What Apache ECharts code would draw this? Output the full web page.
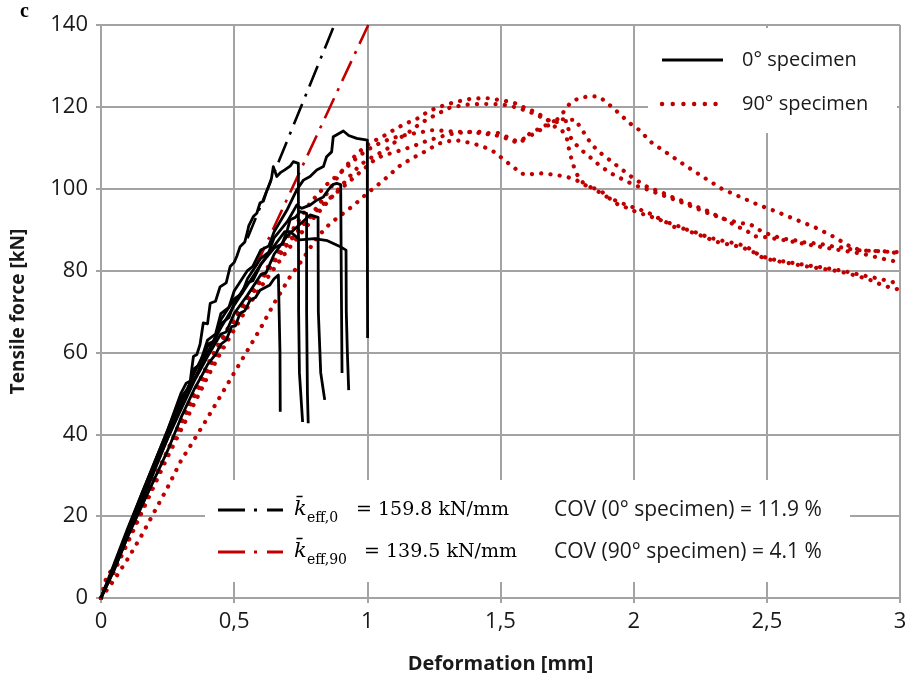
<!DOCTYPE html>
<html><head><meta charset="utf-8">
<script src="https://cdn.jsdelivr.net/npm/echarts@6/dist/echarts.min.js"></script>
<style>html,body{margin:0;padding:0;background:#fff}#c{width:920px;height:680px}</style>
</head><body><div id="c"></div><script>
// Axis ticks
const xTicks = [0, 0.5, 1, 1.5, 2, 2.5, 3];
const yTicks = [0, 20, 40, 60, 80, 100, 120, 140];

// Mean effective stiffness [kN/mm] and COV
const kEff0 = 159.8, kEff90 = 139.5;
const cov0 = 11.9, cov90 = 4.1;
const kLineStart = [0.55, 0.58];   // deformation where the fitted lines become visible

// 0° specimens (deformation [mm], force [kN])
const b1 = [[0,0],[0.05,7],[0.1,15],[0.15,22],[0.2,29],[0.25,36],[0.3,44],[0.35,51],[0.38,54.5],[0.4,57],[0.43,59.5],[0.45,62],[0.47,63],[0.49,66.3],[0.505,66.5],[0.522,69.6],[0.54,70.2],[0.56,72.8],[0.58,73.4],[0.597,75.2],[0.634,76.5],[0.65,78],[0.666,78.9],[0.672,79],[0.672,60],[0.673,45.5]];
const b2 = [[0,0],[0.05,8.5],[0.1,17],[0.15,25],[0.2,33],[0.25,41],[0.3,50],[0.32,52.5],[0.335,53],[0.347,59],[0.36,59.5],[0.372,62],[0.384,67.2],[0.4,67],[0.41,72],[0.43,72.5],[0.447,76],[0.47,77],[0.485,81],[0.5,82],[0.51,83.5],[0.522,85.8],[0.54,87],[0.55,89.5],[0.555,91],[0.572,93.2],[0.585,94],[0.597,96.5],[0.61,97],[0.62,99],[0.634,101.4],[0.64,102.5],[0.647,105.4],[0.66,103],[0.675,104],[0.69,104.6],[0.71,105.5],[0.722,106.6],[0.741,106.2],[0.742,70],[0.745,55],[0.757,43]];
const b3 = [[0,0],[0.05,7.5],[0.1,16],[0.15,24],[0.2,32],[0.25,40],[0.3,47.5],[0.35,55],[0.4,61.5],[0.42,62.5],[0.45,67],[0.48,68.5],[0.5,72],[0.55,77],[0.57,77.5],[0.6,81.5],[0.65,85.5],[0.68,86.5],[0.7,90],[0.71,92.4],[0.73,93],[0.747,94.4],[0.772,94],[0.772,70],[0.775,50],[0.778,42.7]];
const b4 = [[0,0],[0.05,7],[0.1,15],[0.15,23],[0.2,31],[0.25,39],[0.3,46],[0.35,53],[0.4,59],[0.45,64.5],[0.47,65],[0.5,69.5],[0.55,74],[0.6,79],[0.62,79.5],[0.65,84],[0.7,88.5],[0.75,91.5],[0.785,93.6],[0.815,93],[0.816,70],[0.825,55],[0.84,48.4]];
const b5 = [[0,0],[0.05,8],[0.1,16.5],[0.15,25],[0.2,33],[0.25,41],[0.3,49],[0.33,51.5],[0.35,56],[0.38,57.5],[0.4,62],[0.43,63],[0.45,68],[0.5,73],[0.53,74.5],[0.55,78],[0.6,83],[0.63,84.5],[0.65,88],[0.7,92],[0.735,96],[0.753,95.2],[0.785,96],[0.81,97.2],[0.835,98],[0.853,99.7],[0.87,101],[0.885,101.3],[0.9,101],[0.902,80],[0.905,55]];
const b6 = [[0,0],[0.05,7.5],[0.1,15.5],[0.15,23.5],[0.2,31.5],[0.25,39],[0.3,46.5],[0.35,53.5],[0.4,60],[0.45,66],[0.5,71.5],[0.55,76.5],[0.6,81.5],[0.65,86],[0.69,89.5],[0.71,89.5],[0.747,87.5],[0.8,87.8],[0.85,87.3],[0.897,85.9],[0.92,85],[0.921,70],[0.925,60],[0.93,50.8]];
const b7 = [[0,0],[0.05,8],[0.1,16.5],[0.15,24.5],[0.2,32.5],[0.25,40.5],[0.3,48.5],[0.32,49.5],[0.35,56],[0.37,57],[0.4,63],[0.43,64.5],[0.45,69.5],[0.48,71],[0.5,75],[0.55,80],[0.57,81],[0.6,85],[0.63,86],[0.65,89.5],[0.7,95],[0.735,99.7],[0.76,102.1],[0.785,103],[0.81,104.6],[0.835,105.4],[0.847,107.8],[0.866,109],[0.872,112.7],[0.91,114.1],[0.93,113],[0.96,112.3],[1.0,111.9],[1.0,90],[1.001,63.5]];

// 90° specimens
const r1 = [[0,0],[0.05,4.5],[0.1,9.5],[0.15,15],[0.2,21],[0.25,27],[0.3,33.5],[0.334,37],[0.4,44],[0.45,49.5],[0.5,55],[0.55,60.5],[0.6,66],[0.65,72],[0.71,78.5],[0.76,83],[0.81,88],[0.86,91.5],[0.9,93.5],[0.95,96],[1.0,98.9],[1.06,102],[1.12,105.5],[1.17,107.5],[1.22,109.2],[1.266,111],[1.297,111.5],[1.328,111.9],[1.366,111.5],[1.403,110.9],[1.435,110.3],[1.46,109.5],[1.485,108.7],[1.504,107.5],[1.528,106.3],[1.553,105.1],[1.572,103.8],[1.604,103.4],[1.641,103.8],[1.679,103.6],[1.716,103.3],[1.754,102.8],[1.791,101.9],[1.82,100.8],[1.848,100.2],[1.88,99.3],[1.91,97.6],[1.94,96.2],[1.98,95.2],[2.01,94.3],[2.05,93.5],[2.085,92.7],[2.12,91.9],[2.16,91.1],[2.19,90.2],[2.23,89.4],[2.27,88.4],[2.3,87.8],[2.34,87.2],[2.378,86.7],[2.416,86.1],[2.447,84.9],[2.472,83.7],[2.51,82.9],[2.548,82.4],[2.585,82],[2.623,81.6],[2.66,81.2],[2.704,80.8],[2.742,80.4],[2.78,80],[2.81,79.6],[2.848,79],[2.885,78.5],[2.924,78],[2.96,77.4],[3.0,76.7]];
const r2 = [[0,0],[0.03,6],[0.05,7.5],[0.1,14],[0.15,21],[0.2,28.5],[0.25,35.5],[0.3,42.5],[0.35,49],[0.4,55.5],[0.45,61.5],[0.5,67],[0.55,72.5],[0.6,77.5],[0.65,82],[0.7,86.5],[0.75,90.5],[0.8,94.5],[0.85,99],[0.9,104],[0.96,108.5],[1.0,110.7],[1.035,112],[1.07,113.2],[1.11,114.8],[1.15,116.1],[1.185,117],[1.22,118.5],[1.26,119.8],[1.3,120.6],[1.33,121.2],[1.36,121.6],[1.39,122],[1.42,122.1],[1.46,122.1],[1.5,121.6],[1.53,121.3],[1.56,120.8],[1.59,119.8],[1.62,119],[1.65,118],[1.67,117.2],[1.69,116],[1.705,115.1],[1.73,114.3],[1.748,112.7],[1.755,110.3],[1.762,108.3],[1.773,105.8],[1.785,103.8],[1.8,102],[1.82,101],[1.84,100.3],[1.87,99.2],[1.9,98],[1.95,96.6],[2.0,95.4],[2.05,94.3],[2.085,93.1],[2.12,91.9],[2.15,90.7],[2.19,90.2],[2.23,89],[2.27,88.2],[2.3,87.2],[2.34,86.6],[2.38,86.1],[2.41,85.6],[2.45,84.5],[2.48,83.3],[2.51,82.7],[2.548,82.2],[2.585,81.8],[2.623,81.3],[2.66,80.9],[2.704,80.5],[2.742,80.1],[2.773,79.8],[2.81,79.2],[2.848,78.5],[2.885,77.8],[2.924,76.7],[2.96,75.9],[3.0,75.3]];
const r3 = [[0,0],[0.05,6.5],[0.1,13.5],[0.15,20.5],[0.2,27.5],[0.25,34.5],[0.3,41],[0.35,47.5],[0.4,54],[0.45,60],[0.5,65.5],[0.55,71],[0.6,76],[0.65,80.5],[0.7,85],[0.75,89],[0.8,93],[0.847,96.5],[0.9,100.5],[0.972,105.8],[1.02,107.8],[1.07,109.5],[1.12,112.3],[1.16,114],[1.2,116],[1.235,117.3],[1.27,118.5],[1.31,119.8],[1.35,120.3],[1.385,120.6],[1.42,120.7],[1.46,120.7],[1.5,120.6],[1.535,120.3],[1.56,119.8],[1.59,119.2],[1.62,118.5],[1.66,117.3],[1.69,116.5],[1.715,117],[1.74,119],[1.76,120.8],[1.79,122],[1.83,122.6],[1.87,122.5],[1.9,121],[1.93,119.3],[1.985,116],[2.02,114.4],[2.07,111.1],[2.135,108.3],[2.2,105.4],[2.26,102.9],[2.33,100],[2.4,98],[2.47,96],[2.54,94.3],[2.61,92.4],[2.68,90.6],[2.75,88.3],[2.82,85.6],[2.86,84.9],[2.94,84.7],[3.0,84.2]];
const r4 = [[0,0],[0.02,5],[0.05,7.5],[0.1,15],[0.15,22],[0.2,29],[0.25,36],[0.3,43],[0.35,50],[0.4,56.5],[0.45,62.5],[0.5,68],[0.55,73.5],[0.6,78.5],[0.65,83],[0.7,88],[0.75,93],[0.785,96.5],[0.847,101],[0.91,104.5],[0.96,107.5],[1.0,109.5],[1.048,111.2],[1.1,112.5],[1.15,113.2],[1.2,113.8],[1.24,114.3],[1.3,114.1],[1.34,113.9],[1.4,113.8],[1.44,113.4],[1.48,113.1],[1.504,112.7],[1.535,112],[1.566,111.1],[1.59,112],[1.61,113.5],[1.64,114.5],[1.67,115.5],[1.7,116.5],[1.73,117],[1.76,116.8],[1.78,116.9],[1.8,115],[1.82,113],[1.84,111],[1.87,109],[1.9,107.5],[1.93,106],[1.96,104.5],[2.0,102.5],[2.06,100.1],[2.1,99.3],[2.135,98.2],[2.18,97.1],[2.22,96],[2.27,94.8],[2.31,93.5],[2.35,92.3],[2.385,90.8],[2.42,90],[2.45,88.4],[2.49,88.2],[2.56,87.5],[2.635,86.6],[2.71,85.7],[2.785,84.9],[2.86,84.1],[2.935,82.9],[3.0,82]];
const r5 = [[0,0],[0.05,6.8],[0.1,14],[0.15,21.5],[0.2,29],[0.25,36],[0.3,43.5],[0.35,50.5],[0.4,57],[0.45,63],[0.5,68.5],[0.55,73.5],[0.6,78],[0.65,82.5],[0.7,86.5],[0.75,90.5],[0.8,94],[0.847,97],[0.91,100.5],[0.972,104],[1.035,107.5],[1.07,108.3],[1.11,109.1],[1.15,109.9],[1.185,110.7],[1.22,111.6],[1.26,112.4],[1.3,113.2],[1.335,113.6],[1.37,113.8],[1.41,114],[1.45,113.6],[1.49,113.6],[1.52,112.8],[1.56,111.6],[1.6,112.5],[1.64,114],[1.68,115.5],[1.72,116.5],[1.75,116.5],[1.76,112.8],[1.785,110.7],[1.81,109.1],[1.84,107.5],[1.87,105.8],[1.9,104.4],[1.935,103],[1.97,102],[2.0,100.9],[2.04,100.1],[2.1,98.6],[2.16,97.2],[2.22,95.6],[2.28,94],[2.34,92.6],[2.4,91.6],[2.435,91.4],[2.485,89.4],[2.52,88.6],[2.56,87.8],[2.6,87.5],[2.635,86.9],[2.673,86.7],[2.71,86.4],[2.748,85.9],[2.786,85.6],[2.823,85.1],[2.86,84.9],[2.9,84.8],[2.95,84.6],[3.0,84.5]];

const blackCurves = [b1, b2, b3, b4, b5, b6, b7];
const redCurves = [r1, r2, r3, r4, r5];
const BLACK = '#000000', RED = '#c00000';
const FONT = '"Open Sans", "Liberation Sans", sans-serif';

const chart = echarts.init(document.getElementById('c'), null, {renderer: 'canvas'});

const series = [];
// fitted stiffness lines (through origin)
series.push({
  type: 'line', name: 'k0', symbol: 'none', z: 1, silent: true,
  data: [[kLineStart[0], kEff0 * kLineStart[0]], [140 / kEff0, 140]],
  lineStyle: {color: BLACK, width: 2.6, type: [22, 8, 3, 8]}
});
series.push({
  type: 'line', name: 'k90', symbol: 'none', z: 1, silent: true,
  data: [[kLineStart[1], kEff90 * kLineStart[1]], [140 / kEff90, 140]],
  lineStyle: {color: RED, width: 2.6, type: [22, 8, 3, 8]}
});
redCurves.forEach(d => series.push({
  type: 'line', name: '90° specimen', symbol: 'none', z: 2, data: d,
  lineStyle: {color: RED, width: 4.2, type: [0.1, 9.2], cap: 'round'}
}));
blackCurves.forEach(d => series.push({
  type: 'line', name: '0° specimen', symbol: 'none', z: 3, data: d,
  lineStyle: {color: BLACK, width: 2.8, join: 'round'}
}));

const gridColor = '#a3a3a3';
const fmt = v => String(v).replace('.', ',');
const txt = '#1a1a1a';

const kTextFont = '"DejaVu Serif", "Liberation Serif", serif';
const graphics = [
  {type: 'text', x: 20, y: 2, z: 200, style: {text: 'c', font: 'bold 20px "Liberation Serif", serif', fill: '#000'}},
  // top-right legend
  {type: 'rect', z: 100, shape: {x: 648, y: 28, width: 249, height: 105}, style: {fill: '#fff'}},
  {type: 'line', z: 101, shape: {x1: 662, y1: 60, x2: 723, y2: 60}, style: {stroke: BLACK, lineWidth: 3}},
  {type: 'text', z: 101, x: 742, y: 60, style: {text: '0° specimen', font: '20px ' + FONT, fill: txt, verticalAlign: 'middle'}},
  {type: 'line', z: 101, shape: {x1: 662, y1: 104, x2: 716, y2: 104}, style: {stroke: RED, lineWidth: 4.4, lineDash: [0.1, 10.6], lineCap: 'round'}},
  {type: 'text', z: 101, x: 742, y: 104, style: {text: '90° specimen', font: '20px ' + FONT, fill: txt, verticalAlign: 'middle'}},
  // stiffness annotation box
  {type: 'rect', z: 100, shape: {x: 205, y: 480, width: 645, height: 102}, style: {fill: '#fff'}},
  {type: 'line', z: 101, shape: {x1: 218, y1: 510, x2: 283, y2: 510}, style: {stroke: BLACK, lineWidth: 3, lineDash: [27, 9, 3, 10]}},
  {type: 'line', z: 101, shape: {x1: 218, y1: 552, x2: 283, y2: 552}, style: {stroke: RED, lineWidth: 3, lineDash: [27, 9, 3, 10]}},
  {type: 'text', z: 101, x: 294, y: 510, style: {text: 'k\u0304', font: 'italic 21px ' + kTextFont, fill: '#000', verticalAlign: 'middle'}},
  {type: 'text', z: 101, x: 307, y: 518, style: {text: 'eff,0', font: '14px ' + kTextFont, fill: '#000', verticalAlign: 'middle'}},
  {type: 'text', z: 101, x: 356, y: 510, style: {text: '= ' + kEff0.toFixed(1) + ' kN/mm', font: '19px ' + kTextFont, fill: '#000', verticalAlign: 'middle'}},
  {type: 'text', z: 101, x: 294, y: 552, style: {text: 'k\u0304', font: 'italic 21px ' + kTextFont, fill: '#000', verticalAlign: 'middle'}},
  {type: 'text', z: 101, x: 307, y: 560, style: {text: 'eff,90', font: '14px ' + kTextFont, fill: '#000', verticalAlign: 'middle'}},
  {type: 'text', z: 101, x: 364, y: 552, style: {text: '= ' + kEff90.toFixed(1) + ' kN/mm', font: '19px ' + kTextFont, fill: '#000', verticalAlign: 'middle'}},
  {type: 'text', z: 101, x: 554, y: 510, style: {text: 'COV (0° specimen) = ' + cov0.toFixed(1) + ' %', font: '21px ' + FONT, fill: txt, verticalAlign: 'middle'}},
  {type: 'text', z: 101, x: 554, y: 552, style: {text: 'COV (90° specimen) = ' + cov90.toFixed(1) + ' %', font: '21px ' + FONT, fill: txt, verticalAlign: 'middle'}}
];

chart.setOption({
  animation: false,
  backgroundColor: '#fff',
  grid: {left: 101, right: 20, top: 25, bottom: 82, containLabel: false},
  xAxis: {
    type: 'value', min: xTicks[0], max: xTicks[xTicks.length - 1], interval: 0.5,
    name: 'Deformation [mm]', nameLocation: 'middle', nameGap: 56,
    nameTextStyle: {fontFamily: FONT, fontWeight: 'bold', fontSize: 20, color: txt},
    axisLine: {show: true, lineStyle: {color: gridColor, width: 2}},
    axisTick: {show: true, length: 5, lineStyle: {color: gridColor, width: 2}},
    axisLabel: {formatter: fmt, fontFamily: FONT, fontSize: 22, color: txt, margin: 13},
    splitLine: {show: true, lineStyle: {color: gridColor, width: 2}}
  },
  yAxis: {
    type: 'value', min: yTicks[0], max: yTicks[yTicks.length - 1], interval: 20,
    name: 'Tensile force [kN]', nameLocation: 'middle', nameGap: 73,
    nameTextStyle: {fontFamily: FONT, fontWeight: 'bold', fontSize: 19, color: txt},
    axisLine: {show: true, lineStyle: {color: gridColor, width: 2}},
    axisTick: {show: true, length: 5, lineStyle: {color: gridColor, width: 2}},
    axisLabel: {fontFamily: FONT, fontSize: 22, color: txt, margin: 13},
    splitLine: {show: true, lineStyle: {color: gridColor, width: 2}}
  },
  series: series,
  graphic: graphics
});
</script></body></html>
